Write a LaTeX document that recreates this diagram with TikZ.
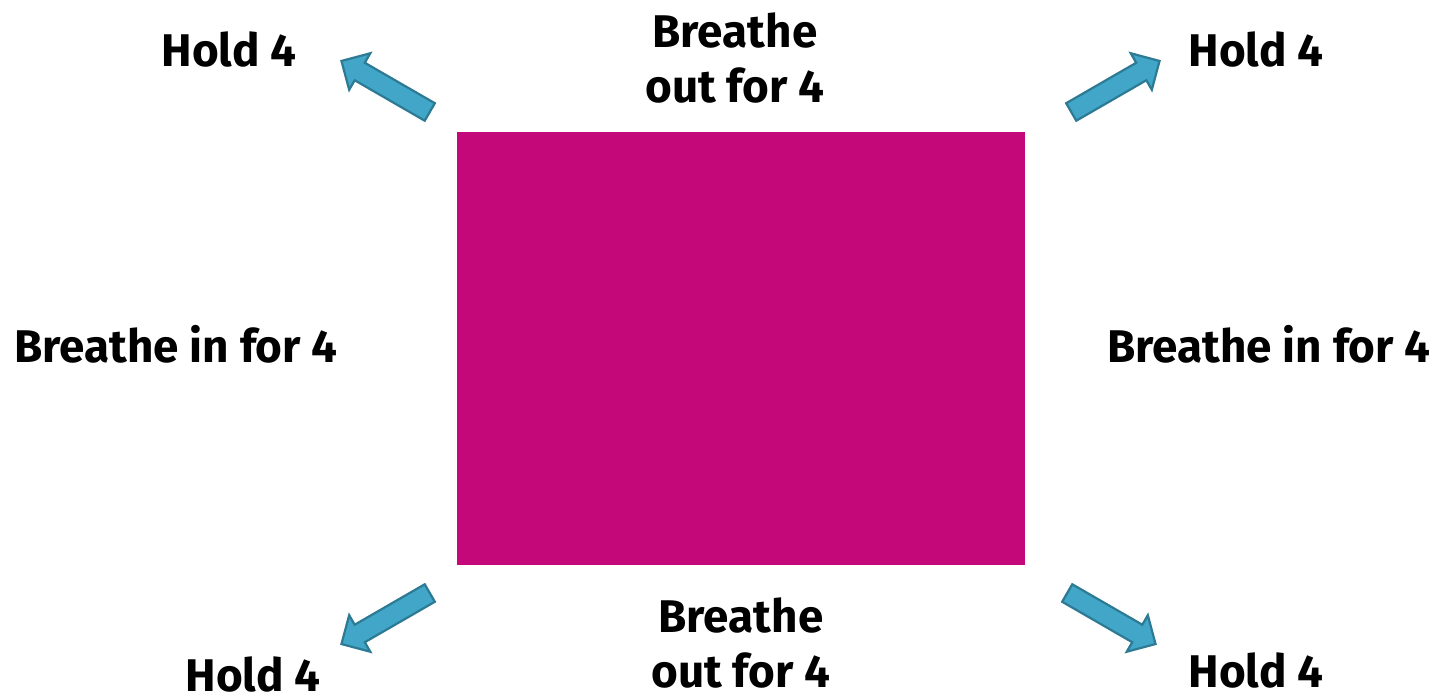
\documentclass[tikz,border=0pt]{standalone}
\usepackage{fontspec}
\setmainfont{Fira Sans}
\usetikzlibrary{shapes.arrows}
\definecolor{boxmagenta}{RGB}{196,8,122}
\definecolor{arrowblue}{RGB}{66,166,200}
\definecolor{arrowedge}{RGB}{44,122,148}

\begin{document}
\begin{tikzpicture}[
  x=1bp, y=1bp,
  lbl/.style={font=\fontsize{46}{56}\selectfont\bfseries, align=center, inner sep=0pt},
  holdarrow/.style={single arrow, draw=arrowedge, fill=arrowblue, line width=2.2bp,
    minimum height=102bp, minimum width=0pt, inner xsep=0pt, inner ysep=9bp,
    single arrow head extend=11bp, single arrow head indent=0bp}
]
\useasboundingbox (0,0) rectangle (1437,696);

\fill[boxmagenta] (457,131) rectangle (1025,564);
\node (box) at (741,347.5) {};

% corner arrows
\node[holdarrow, rotate=150] (atl) at (390,607) {};
\node[holdarrow, rotate=30]  (atr) at (1111,607) {};
\node[holdarrow, rotate=210] (abl) at (390,80) {};
\node[holdarrow, rotate=-30] (abr) at (1107,80) {};

% labels
\node[lbl] (holdtl) at (229,646) {Hold 4};
\node[lbl] (holdtr) at (1256,646) {Hold 4};
\node[lbl, anchor=base] (holdbl) at (253,4) {Hold 4};
\node[lbl] (holdbr) at (1256,26) {Hold 4};
\node[lbl] (outtop) at (735,638) {Breathe\\out for 4};
\node[lbl] (outbot) at (741,53) {Breathe\\out for 4};
\node[lbl] (inleft) at (176,352) {Breathe in for 4};
\node[lbl] (inright) at (1269,352) {Breathe in for 4};
\end{tikzpicture}
\end{document}
